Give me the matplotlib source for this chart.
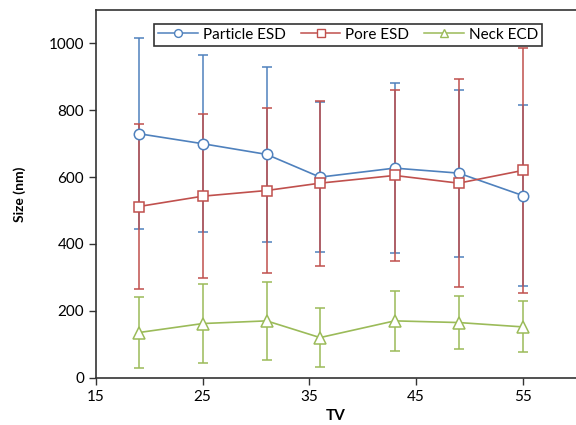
import numpy as np
import matplotlib
matplotlib.use('Agg')
import matplotlib.pyplot as plt
from matplotlib.lines import Line2D

plt.rcParams['font.family'] = ['Lato', 'DejaVu Sans']

tv = [19, 25, 31, 36, 43, 49, 55]

# Particle ESD (mean, std)
particle = [730, 700, 668, 600, 627, 612, 545]
particle_err = [285, 265, 262, 225, 255, 250, 270]

# Pore ESD
pore = [512, 543, 560, 582, 605, 582, 620]
pore_err = [246, 245, 247, 247, 256, 312, 367]

# Neck ECD
neck = [135, 162, 170, 120, 170, 165, 152]
neck_err = [105, 117, 117, 89, 90, 80, 76]

blue = '#4F81BD'
red = '#C0504D'
green = '#9BBB59'

fig = plt.figure(figsize=(5.76, 4.25), dpi=100)
ax = fig.add_axes([96/576, 1 - 377.7/425, 1 - 96/576, (377.7 - 10)/425])

series = [
    (particle, particle_err, blue, 'o', 'Particle ESD', 7.5),
    (pore, pore_err, red, 's', 'Pore ESD', 7),
    (neck, neck_err, green, '^', 'Neck ECD', 8),
]
handles = []
for vals, err, col, mk, lab, ms in series:
    ax.errorbar(tv, vals, yerr=err, color=col, marker=mk, markersize=ms,
                markerfacecolor='white', markeredgecolor=col, markeredgewidth=1.1,
                linewidth=1.2, elinewidth=1.1, capsize=3.5, capthick=1.1)
    handles.append(Line2D([], [], color=col, marker=mk, markersize=ms*0.75,
                          markerfacecolor='white', markeredgecolor=col,
                          linewidth=1.1, label=lab))

ax.set_xlim(15, 60)
ax.set_ylim(0, 1100)
ax.set_xticks([15, 25, 35, 45, 55])
ax.set_yticks([0, 200, 400, 600, 800, 1000])
ax.tick_params(direction='out', length=5, width=1, labelsize=11, colors='#333333',
               labelcolor='black')
ax.spines['right'].set_visible(False)
for s in ['left', 'bottom', 'top']:
    ax.spines[s].set_color('#333333')
    ax.spines[s].set_linewidth(1.2)

ax.set_xlabel('TV', fontsize=11, fontweight='bold', labelpad=4)
ax.set_ylabel('Size (nm)', fontsize=10, fontweight='bold', labelpad=16)

leg = ax.legend(handles=handles, loc='upper center', bbox_to_anchor=(0.525, 0.983),
                ncol=3, fontsize=11, frameon=True, fancybox=False, edgecolor='black',
                handlelength=2.6, columnspacing=1.0, handletextpad=0.3,
                borderpad=0.25)
leg.get_frame().set_linewidth(1.2)

fig.savefig('out.png', dpi=100)
